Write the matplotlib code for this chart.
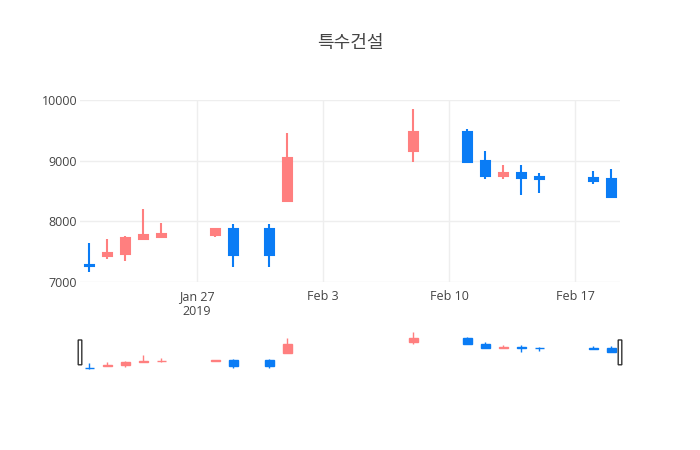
import matplotlib
matplotlib.use("Agg")
import matplotlib.pyplot as plt
import matplotlib.dates as mdates
import matplotlib.patches as mpatches
import numpy as np
import datetime as dt

dates = ["2019-01-21", "2019-01-22", "2019-01-23", "2019-01-24", "2019-01-25",
         "2019-01-28", "2019-01-29", "2019-01-31", "2019-02-01", "2019-02-08",
         "2019-02-11", "2019-02-12", "2019-02-13", "2019-02-14", "2019-02-15",
         "2019-02-18", "2019-02-19"]
opens = [7280, 7430, 7460, 7710, 7750, 7780, 7870, 7870, 8330, 9160,
         9470, 9000, 8750, 8800, 8730, 8720, 8690]
highs = [7650, 7710, 7760, 8200, 7980, 7870, 7950, 7950, 9450, 9850,
         9520, 9160, 8930, 8930, 8800, 8830, 8860]
lows = [7170, 7380, 7350, 7710, 7730, 7740, 7240, 7240, 8330, 8980,
        8980, 8700, 8700, 8440, 8470, 8610, 8400]
closes = [7260, 7480, 7730, 7780, 7790, 7870, 7440, 7440, 9040, 9470,
          8980, 8750, 8800, 8710, 8690, 8660, 8400]

UP = "#ff7f7f"
DOWN = "#0a7cf5"

x = mdates.date2num([dt.datetime.strptime(d, "%Y-%m-%d") for d in dates])
x0 = mdates.date2num(dt.datetime(2019, 1, 20, 12))
x1 = mdates.date2num(dt.datetime(2019, 2, 19, 12))

plt.rcParams['font.family'] = ['Open Sans', 'Noto Sans CJK KR', 'DejaVu Sans']

fig = plt.figure(figsize=(7, 4.5), dpi=100)
ax = fig.add_axes([80 / 700, 1 - 282 / 450, 540 / 700, 182 / 450])
ax2 = fig.add_axes([80 / 700, 1 - 371 / 450, 540 / 700, 40 / 450])


def candles(a, lw, w):
    for xi, o, h, l, c in zip(x, opens, highs, lows, closes):
        col = UP if c >= o else DOWN
        a.plot([xi, xi], [l, h], color=col, lw=lw, solid_capstyle='butt', zorder=2)
        lo, hi = min(o, c), max(o, c)
        a.add_patch(mpatches.Rectangle((xi - w / 2, lo), w, max(hi - lo, 15),
                                       facecolor=col, edgecolor=col, lw=lw, zorder=3))


candles(ax, 1.5, 0.5)
ax.set_xlim(x0, x1)
ax.set_ylim(7000, 10000)
ax.set_yticks([7000, 8000, 9000, 10000])
ticks = [mdates.date2num(dt.datetime(2019, m, d)) for m, d in [(1, 27), (2, 3), (2, 10), (2, 17)]]
ax.set_xticks(ticks)
ax.set_xticklabels(["Jan 27\n2019", "Feb 3", "Feb 10", "Feb 17"])
ax.grid(True, color="#eeeeee", lw=1)
ax.set_axisbelow(True)
for s in ax.spines.values():
    s.set_visible(False)
ax.tick_params(length=0, labelsize=9, colors="#444444")
ax.tick_params(axis='x', pad=6)
ax.tick_params(axis='y', pad=2)

candles(ax2, 1.0, 0.5)
ax2.set_xlim(x0, x1)
ax2.set_ylim(7050, 9950)
ax2.set_xticks([])
ax2.set_yticks([])
for s in ax2.spines.values():
    s.set_visible(False)
for hx in [x0, x1]:
    ax2.add_patch(mpatches.FancyBboxPatch((hx - 0.1, 7500), 0.2, 1800,
                                          boxstyle="round,pad=0,rounding_size=0.05",
                                          facecolor="white", edgecolor="#333333",
                                          lw=1, zorder=5, clip_on=False))

fig.text(0.5, 1 - 43 / 450, "특수건설", ha="center", va="center",
         fontsize=13, color="#444444", family=['Noto Sans CJK KR', 'DejaVu Sans'])

fig.savefig("out.png", dpi=100)
